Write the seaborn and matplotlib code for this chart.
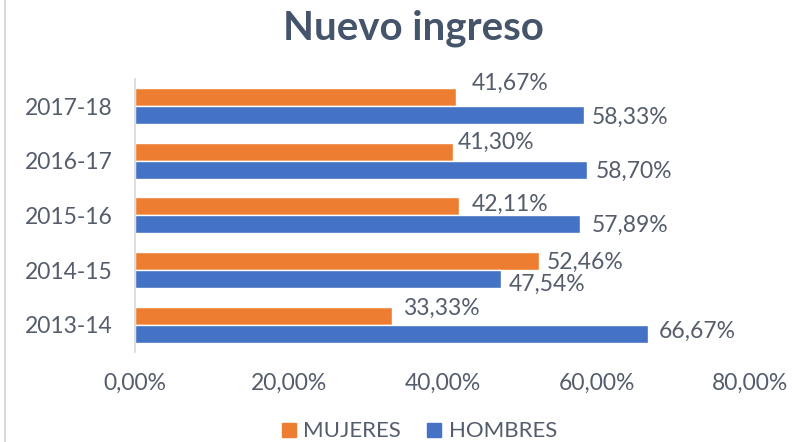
import matplotlib
matplotlib.use("Agg")
import matplotlib.pyplot as plt
import matplotlib.lines as mlines
import seaborn as sns
import pandas as pd

# Academic years, top to bottom
years = ["2017-18", "2016-17", "2015-16", "2014-15", "2013-14"]
groups = ["MUJERES", "HOMBRES"]
mujeres = [41.67, 41.30, 42.11, 52.46, 33.33]
hombres = [58.33, 58.70, 57.89, 47.54, 66.67]
x_ticks = [0, 20, 40, 60, 80]

# hand-placed label nudges (pixels right, pixels up) per bar
label_nudge = {
    "MUJERES": [(17, 14), (6, 9.5), (14, 2), (9, -1), (13, 7.5)],
    "HOMBRES": [(9, -1.5), (10, -1.5), (12, -0.5), (9, -5), (12, 2)],
}

colors = {"MUJERES": "#ED7D31", "HOMBRES": "#4472C4"}
text_color = "#555D6C"

df = pd.DataFrame({
    "curso": years * 2,
    "grupo": ["MUJERES"] * len(years) + ["HOMBRES"] * len(years),
    "valor": mujeres + hombres,
})

sns.set_theme(style="white")
plt.rcParams["font.family"] = ["Lato", "DejaVu Sans"]

fig = plt.figure(figsize=(7.95, 4.42), dpi=100)
ax = fig.add_axes([0.170, 0.204, 0.774, 0.617])

sns.barplot(data=df, y="curso", x="valor", hue="grupo", order=years,
            hue_order=groups, palette=colors, orient="h", width=0.66,
            saturation=1, ax=ax, legend=True)

ax.set_xlim(0, 80)
ax.set_xticks(x_ticks)
ax.set_xticklabels([f"{v:.2f}%".replace(".", ",") for v in x_ticks])
ax.set_xlabel("")
ax.set_ylabel("")
ax.tick_params(axis="both", length=0, labelsize=16.5, colors=text_color)
ax.tick_params(axis="x", pad=15)
ax.tick_params(axis="y", pad=16)

for side in ["top", "right", "bottom"]:
    ax.spines[side].set_visible(False)
ax.spines["left"].set_color("#D9D9D9")
ax.spines["left"].set_linewidth(1.2)

# value labels next to each bar end
for container, grp in zip(ax.containers, groups):
    for bar, (dx, dy) in zip(container, label_nudge[grp]):
        w = bar.get_width()
        yc = bar.get_y() + bar.get_height() / 2
        ax.annotate(f"{w:.2f}%".replace(".", ","), (w, yc),
                    xytext=(dx - 1, dy), textcoords="offset pixels",
                    ha="left", va="center", fontsize=16.5, color=text_color)

handles = [mlines.Line2D([], [], marker="s", linestyle="none", markersize=10,
                         color=colors[g]) for g in groups]
ax.legend(handles, groups, loc="center", ncol=2, frameon=False,
          fontsize=16, labelcolor=text_color, handlelength=0.7,
          handletextpad=0.3, columnspacing=1.15)
ax.get_legend().set_bbox_to_anchor((0.527, 0.024), transform=fig.transFigure)

fig.text(0.52, 0.935, "Nuevo ingreso", ha="center", va="center",
         fontsize=29, fontweight="bold", color="#44546A")

# left border of the chart area
fig.add_artist(mlines.Line2D([0.006, 0.006], [0, 1], transform=fig.transFigure,
                             color="#D9D9D9", linewidth=1.5))

fig.savefig("out.png", dpi=100, facecolor="white")
